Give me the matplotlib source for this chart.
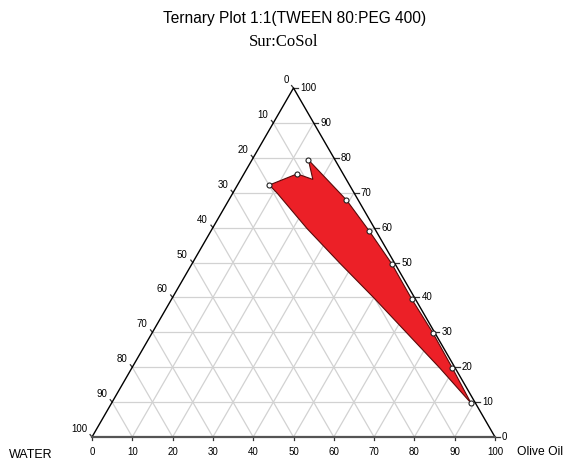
import numpy as np
import matplotlib.pyplot as plt

# compositions in percent (Smix = Sur:CoSol)
region_smix = [72.2, 75.4, 73.8, 79.4, 67.9, 59.1, 49.6, 39.5, 29.9, 19.7, 9.7,
               19.7, 29.9, 39.8, 49.8, 59.8, 69.8]
region_oil = [7.9, 13.2, 17.9, 14.0, 29.2, 39.2, 49.6, 59.6, 69.6, 79.6, 89.2,
              76.5, 63.1, 50.1, 36.6, 23.4, 11.1]

point_smix = [79.4, 75.4, 72.2, 67.9, 59.1, 49.6, 39.5, 29.9, 19.7, 9.7]
point_oil = [14.0, 13.2, 7.9, 29.2, 39.2, 49.6, 59.6, 69.6, 79.6, 89.2]

ticks = [0, 10, 20, 30, 40, 50, 60, 70, 80, 90, 100]

title = "Ternary Plot 1:1(TWEEN 80:PEG 400)"
subtitle = "Sur:CoSol"
water_label = "WATER"
oil_label = "Olive Oil"

H = np.sqrt(3) / 2


def to_xy(smix, oil):
    s = np.asarray(smix, dtype=float) / 100
    o = np.asarray(oil, dtype=float) / 100
    return o + s / 2, s * H


def main():
    fig = plt.figure(figsize=(5.66, 4.61), dpi=100)
    ax = fig.add_axes([92 / 566, 24 / 461, 403 / 566, 349 / 461])
    ax.set_xlim(0, 1)
    ax.set_ylim(0, H)
    ax.axis("off")

    grid_col = "#d2d2d2"
    for t in ticks[1:-1]:
        f = t / 100
        # constant Smix (horizontal)
        ax.plot([f / 2, 1 - f / 2], [f * H, f * H], color=grid_col, lw=0.9, zorder=1)
        # constant oil (parallel to left edge)
        ax.plot([f, f + (1 - f) / 2], [0, (1 - f) * H], color=grid_col, lw=0.9, zorder=1)
        # constant water (parallel to right edge)
        ax.plot([1 - f, (1 - f) / 2], [0, (1 - f) * H], color=grid_col, lw=0.9, zorder=1)

    # triangle edges
    ax.plot([0, 0.5, 1], [0, H, 0], color="black", lw=1.0, zorder=4, clip_on=False)
    ax.plot([0, 1], [0, 0], color="#555555", lw=1.6, zorder=4, clip_on=False)

    # region
    rx, ry = to_xy(region_smix, region_oil)
    ax.fill(rx, ry, facecolor="#ec2027", edgecolor="#5a0a0a", lw=0.8, zorder=3)

    px, py = to_xy(point_smix, point_oil)
    ax.plot(px, py, "o", ms=3.6, mfc="white", mec="#222222", mew=0.8, zorder=5, clip_on=False)

    L = 0.012
    fs = 7
    for t in ticks:
        f = t / 100
        # bottom axis: olive oil
        ax.plot([f, f], [0, -0.6 * L], color="#333333", lw=0.9, clip_on=False)
        ax.annotate(str(t), (f, 0), xytext=(0, -10), textcoords="offset pixels",
                    ha="center", va="top", fontsize=fs, family="Liberation Sans")
        # right axis: Sur:CoSol
        xr, yr = 1 - f / 2, f * H
        ax.plot([xr, xr + L], [yr, yr], color="#333333", lw=0.9, clip_on=False)
        ax.annotate(str(t), (xr, yr), xytext=(7, 0), textcoords="offset pixels",
                    ha="left", va="center", fontsize=fs, family="Liberation Sans")
        # left axis: water
        xl, yl = (1 - f) / 2, (1 - f) * H
        ax.plot([xl, xl - 0.4 * L], [yl, yl + 0.5 * L], color="#333333", lw=0.9, clip_on=False)
        ax.annotate(str(t), (xl, yl), xytext=(-5, 3), textcoords="offset pixels",
                    ha="right", va="bottom", fontsize=fs, family="Liberation Sans")

    fig.text(295 / 566, 1 - 18 / 461, title, ha="center", va="center",
             fontsize=11.2, family="Liberation Sans")
    fig.text(284 / 566, 1 - 42 / 461, subtitle, ha="center", va="center",
             fontsize=12, family="Liberation Serif")
    fig.text(31 / 566, 1 - 455 / 461, water_label, ha="center", va="center",
             fontsize=9, family="Liberation Sans")
    fig.text(540 / 566, 1 - 452 / 461, oil_label, ha="center", va="center",
             fontsize=8.7, family="Liberation Sans")

    fig.savefig("out.png", dpi=100)


if __name__ == "__main__":
    main()
